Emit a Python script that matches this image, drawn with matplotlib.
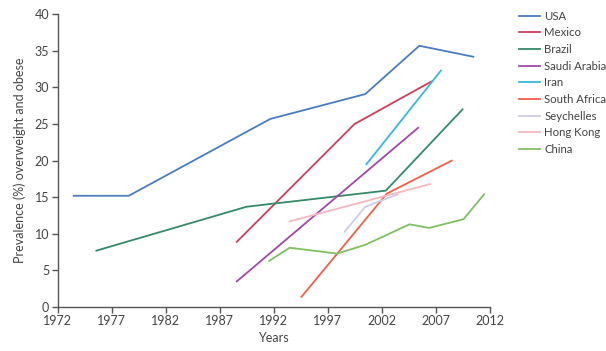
import matplotlib
matplotlib.use("Agg")
import matplotlib.pyplot as plt

plt.rcParams['font.family'] = ['Lato', 'DejaVu Sans']
fs = 9
lfs = 8.2

usa_x = [1973.5, 1978.6, 1991.7, 2000.5, 2005.5, 2010.5]
usa_y = [15.2, 15.2, 25.7, 29.1, 35.7, 34.2]
mexico_x = [1988.6, 1999.5, 2006.6]
mexico_y = [8.9, 25.0, 30.8]
brazil_x = [1975.6, 1989.5, 2002.4, 2009.5]
brazil_y = [7.7, 13.7, 15.9, 27.0]
saudi_x = [1988.6, 2005.4]
saudi_y = [3.5, 24.5]
iran_x = [2000.6, 2007.5]
iran_y = [19.5, 32.3]
safrica_x = [1994.6, 2002.5, 2008.5]
safrica_y = [1.4, 15.5, 20.0]
seych_x = [1998.6, 2000.5, 2003.5]
seych_y = [10.3, 13.7, 15.4]
hk_x = [1993.5, 2006.5]
hk_y = [11.7, 16.8]
china_x = [1991.6, 1993.5, 1997.9, 2000.5, 2004.6, 2006.4, 2009.6, 2011.5]
china_y = [6.3, 8.1, 7.3, 8.5, 11.3, 10.8, 12.0, 15.4]

series = [
    ("USA", usa_x, usa_y, "#4a7dc0"),
    ("Mexico", mexico_x, mexico_y, "#d03c5c"),
    ("Brazil", brazil_x, brazil_y, "#358a68"),
    ("Saudi Arabia", saudi_x, saudi_y, "#a048a8"),
    ("Iran", iran_x, iran_y, "#38b8d8"),
    ("South Africa", safrica_x, safrica_y, "#f25f48"),
    ("Seychelles", seych_x, seych_y, "#cccce8"),
    ("Hong Kong", hk_x, hk_y, "#f5b8c0"),
    ("China", china_x, china_y, "#80c060"),
]

xticks = [1972, 1977, 1982, 1987, 1992, 1997, 2002, 2007, 2012]
yticks = [0, 5, 10, 15, 20, 25, 30, 35, 40]

fig = plt.figure(figsize=(6.06, 3.51), dpi=100)
ax = fig.add_axes([57.5/606, 44/351, 432/606, 292.7/351])

for name, xs, ys, c in series:
    ax.plot(xs, ys, color=c, lw=1.3, label=name)

ax.set_xlim(1972, 2012)
ax.set_ylim(0, 40)
ax.set_xticks(xticks)
ax.set_yticks(yticks)
for s in ['top', 'right']:
    ax.spines[s].set_visible(False)
for s in ['left', 'bottom']:
    ax.spines[s].set_color('#555555')
    ax.spines[s].set_linewidth(1.0)
ax.tick_params(colors='#555555', labelsize=fs, length=4, width=1.0, labelcolor='#444444', pad=2)
ax.set_xlabel("Years", fontsize=fs, color='#444444', labelpad=3)
ax.set_ylabel("Prevalence (%) overweight and obese", fontsize=fs, color='#444444', labelpad=6)

leg = ax.legend(loc='upper left', bbox_to_anchor=(514/606, 1 - 6/351), bbox_transform=fig.transFigure,
                frameon=False, fontsize=lfs, handlelength=1.9, handletextpad=0.35,
                labelspacing=0.5, borderaxespad=0)
for t in leg.get_texts():
    t.set_color('#444444')

fig.savefig("out.png", dpi=100)
